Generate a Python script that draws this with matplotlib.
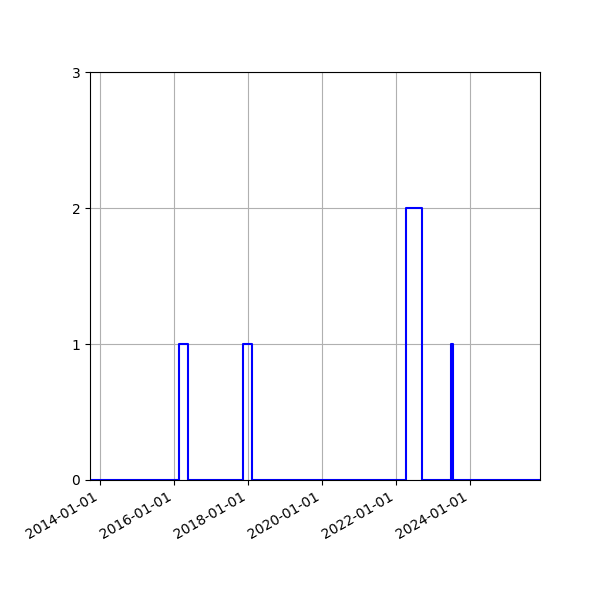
import numpy as np
import pandas as pd
import matplotlib
matplotlib.use("Agg")
import matplotlib.pyplot as plt
import matplotlib.dates as mdates

# change points of the step series (value holds until next date)
dates = ["2013-09-24", "2016-02-22", "2016-05-17", "2017-11-15", "2018-02-07",
         "2022-04-10", "2022-09-13", "2022-09-21", "2023-07-05", "2023-07-18",
         "2025-11-26"]
counts = [0, 1, 0, 1, 0, 2, 1, 0, 1, 0, 0]

x = pd.to_datetime(dates)

fig, ax = plt.subplots(figsize=(6, 6), dpi=100)
ax.plot(x, counts, color="blue", drawstyle="steps-post")
ax.set_xlim(x[0], x[-1])
ax.set_ylim(0, 3)
ax.set_yticks([0, 1, 2, 3])
ax.xaxis.set_major_locator(mdates.YearLocator(2))
ax.xaxis.set_major_formatter(mdates.DateFormatter("%Y-%m-%d"))
ax.grid(True)
fig.autofmt_xdate()
fig.subplots_adjust(left=0.15)
fig.savefig("out.png")
